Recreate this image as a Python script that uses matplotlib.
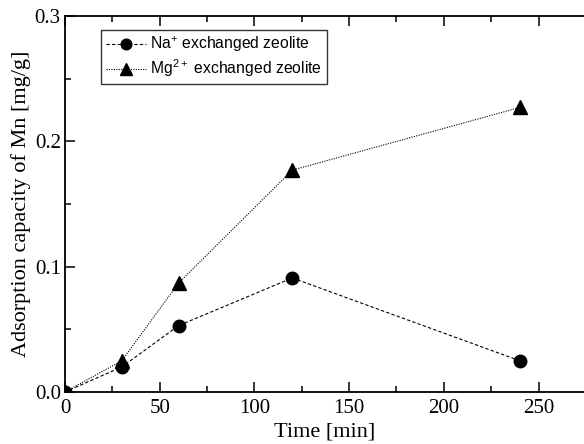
import matplotlib.pyplot as plt
from matplotlib.ticker import MultipleLocator

# adsorption data
time = [0, 30, 60, 120, 240]
na_ads = [0.0, 0.020, 0.053, 0.091, 0.025]
mg_ads = [0.0, 0.025, 0.087, 0.177, 0.227]
na_label = r'Na$^{+}$ exchanged zeolite'
mg_label = r'Mg$^{2+}$ exchanged zeolite'

plt.rcParams['mathtext.default'] = 'regular'
serif = 'Liberation Serif'
sans = 'Liberation Sans'

fig = plt.figure(figsize=(5.84, 4.44), dpi=100)
ax = fig.add_axes([65/584, 52/444, 519/584, 376/444])

ax.plot(time, na_ads, color='black', ls=(0, (3, 2)), lw=0.8,
        marker='o', ms=9, label=na_label)
ax.plot(time, mg_ads, color='black', ls=(0, (1, 1.2)), lw=0.8,
        marker='^', ms=10, label=mg_label)

ax.set_xlim(0, 274)
ax.set_ylim(0, 0.3)
ax.xaxis.set_major_locator(MultipleLocator(50))
ax.xaxis.set_minor_locator(MultipleLocator(25))
ax.yaxis.set_major_locator(MultipleLocator(0.1))
ax.yaxis.set_minor_locator(MultipleLocator(0.05))
ax.yaxis.set_major_formatter(plt.FuncFormatter(lambda v, p: '%.1f' % v))

ax.spines['right'].set_visible(False)
for s in ['left', 'bottom', 'top']:
    ax.spines[s].set_linewidth(1.3)
ax.tick_params(which='both', direction='in', top=True, right=False, width=1.1)
ax.tick_params(which='major', length=7, labelsize=15)
ax.tick_params(axis='x', which='major', pad=5)
ax.tick_params(axis='y', which='major', pad=3)
ax.tick_params(which='minor', length=4)
for t in ax.get_xticklabels() + ax.get_yticklabels():
    t.set_fontfamily(serif)

ax.set_xlabel('Time [min]', fontsize=16, fontfamily=serif, labelpad=3)
ax.set_ylabel('Adsorption capacity of Mn [mg/g]', fontsize=16,
              fontfamily=serif, labelpad=3)

leg = ax.legend(loc='upper left', bbox_to_anchor=(0.069, 0.963),
                borderaxespad=0, fancybox=False, shadow=False,
                handlelength=2.6, handletextpad=0.25, labelspacing=0.2,
                borderpad=0.3, markerscale=0.85,
                prop={'family': sans, 'size': 11.3})
leg.get_frame().set_edgecolor('black')
leg.get_frame().set_linewidth(1.0)

fig.savefig('out.png', dpi=100)
